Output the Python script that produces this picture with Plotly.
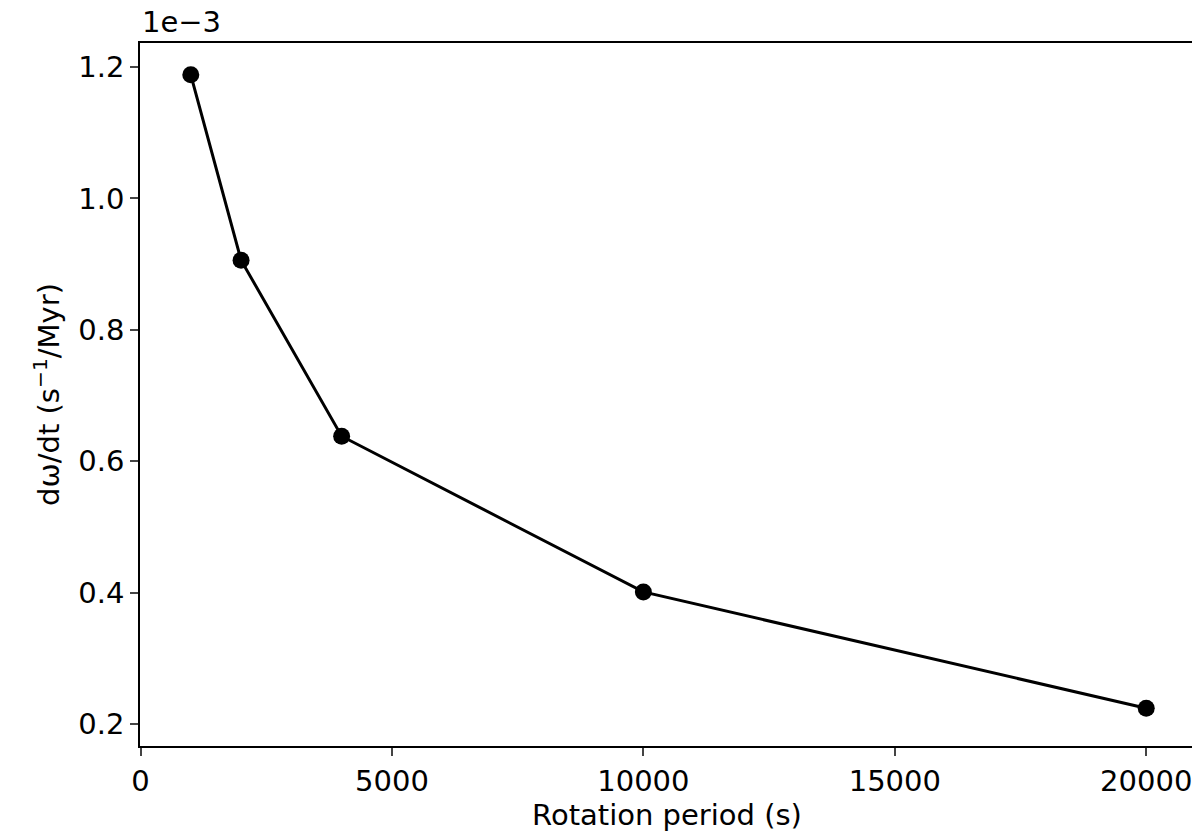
import plotly.graph_objects as go

period = [1000, 2000, 4000, 10000, 20000]
domega = [1.188, 0.906, 0.638, 0.401, 0.224]  # units of 1e-3
x_ticks = [0, 5000, 10000, 15000, 20000]
y_ticks = [0.2, 0.4, 0.6, 0.8, 1.0, 1.2]

fig = go.Figure(go.Scatter(x=period, y=domega, mode="lines+markers",
                           line=dict(color="black", width=3),
                           marker=dict(color="black", size=17)))
ax = dict(showline=True, linecolor="black", linewidth=1.5, mirror=True,
          ticks="outside", ticklen=8, tickwidth=1.5, showgrid=False, zeroline=False,
          tickfont=dict(size=29, color="black"))
fig.update_xaxes(**ax, range=[-10, 20950], tickvals=x_ticks, tickformat="d",
                 title=dict(text="Rotation period (s)", font=dict(size=29, color="black"), standoff=6))
fig.update_yaxes(**ax, range=[0.1665, 1.2365], tickvals=y_ticks, tickformat=".1f",
                 title=dict(text="dω/dt (s<sup>−1</sup>/Myr)", font=dict(size=29, color="black"), standoff=10))
fig.add_annotation(text="1e−3", xref="paper", yref="paper", x=0, y=1, xanchor="left",
                   yanchor="bottom", yshift=2, showarrow=False, font=dict(size=29, color="black"))
fig.update_layout(width=1200, height=836, plot_bgcolor="white", paper_bgcolor="white",
                  font=dict(family="DejaVu Sans", size=29), showlegend=False,
                  margin=dict(l=132, r=12, t=35, b=98))
fig.write_html("out.html")
